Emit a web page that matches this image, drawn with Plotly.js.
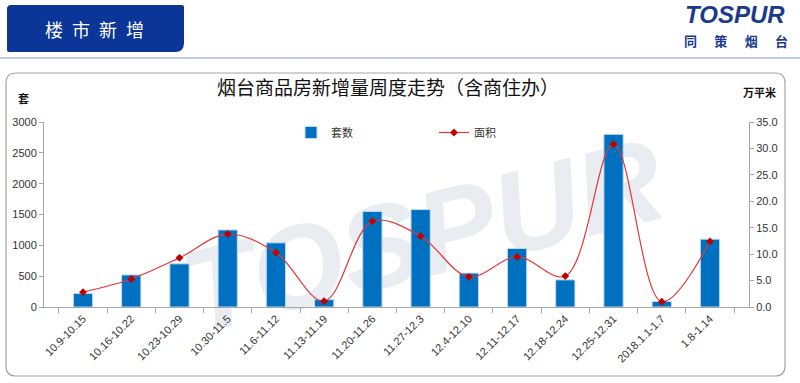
<!DOCTYPE html>
<html>
<head>
<meta charset="utf-8">
<script src="https://cdn.plot.ly/plotly-3.0.1.min.js"></script>
<style>
html,body{margin:0;padding:0;background:#fff;}
#chart{width:800px;height:383px;}
</style>
</head>
<body>
<div id="chart"></div>
<script>
// ---- data ----
const weeks = ["10.9-10.15","10.16-10.22","10.23-10.29","10.30-11.5","11.6-11.12","11.13-11.19","11.20-11.26","11.27-12.3","12.4-12.10","12.11-12.17","12.18-12.24","12.25-12.31","2018.1.1-1.7","1.8-1.14"];
const units = [220, 520, 700, 1250, 1040, 120, 1550, 1580, 550, 950, 440, 2800, 90, 1100];
const area = [2.8, 5.3, 9.3, 13.8, 10.3, 1.1, 16.2, 13.4, 5.7, 9.5, 5.85, 30.8, 1.0, 12.4];
const unitsName = "套数";
const areaName = "面积";
const chartTitle = "烟台商品房新增量周度走势（含商住办）";
const leftUnit = "套";
const rightUnit = "万平米";
const headerText = "楼\u2002市\u2002新\u2002增";
const logoText = "TOSPUR";
const logoSub = "同\u3000\u2004策\u3000\u2004烟\u3000\u2004台";

// ---- pixel -> paper helpers (plot area: x 44..749, y 122..307) ----
const PL = 44, PR = 749, PT = 122, PB = 307;
const fx = x => (x - PL) / (PR - PL);
const fy = y => (PB - y) / (PB - PT);

function roundRect(x0, y0, x1, y1, rtl, rtr, rbr, rbl) {
  const P = (x, y) => fx(x) + "," + fy(y);
  return "M" + P(x0 + rtl, y0) +
    " L" + P(x1 - rtr, y0) + " Q" + P(x1, y0) + " " + P(x1, y0 + rtr) +
    " L" + P(x1, y1 - rbr) + " Q" + P(x1, y1) + " " + P(x1 - rbr, y1) +
    " L" + P(x0 + rbl, y1) + " Q" + P(x0, y1) + " " + P(x0, y1 - rbl) +
    " L" + P(x0, y0 + rtl) + " Q" + P(x0, y0) + " " + P(x0 + rtl, y0) + " Z";
}

const barTrace = {
  type: "bar", name: unitsName, x: weeks, y: units, yaxis: "y",
  marker: {color: "#0070C0", line: {color: "#c5dbef", width: 1}},
  hoverinfo: "x+y"
};
const lineTrace = {
  type: "scatter", mode: "lines+markers", name: areaName, x: weeks, y: area, yaxis: "y2",
  line: {color: "#e0393a", width: 1.2, shape: "spline", smoothing: 1},
  marker: {symbol: "diamond", size: 6, color: "#c00000"}
};

const axisFont = {family: "Liberation Sans, Arial, sans-serif", size: 11, color: "#333"};
const cjk = "Noto Sans CJK SC, sans-serif";

const layout = {
  width: 800, height: 383,
  margin: {l: PL, r: 800 - PR, t: PT, b: 383 - PB, pad: 0},
  paper_bgcolor: "#fff", plot_bgcolor: "rgba(0,0,0,0)",
  showlegend: true,
  bargap: 0.6,
  legend: {
    orientation: "h", x: fx(291), y: fy(118), xanchor: "left", yanchor: "top",
    font: {family: cjk, size: 11, color: "#333"},
    bgcolor: "rgba(0,0,0,0)", entrywidth: 98, entrywidthmode: "pixels",
    itemwidth: 30
  },
  xaxis: {
    type: "category", tickangle: -45, tickfont: axisFont,
    showline: true, linecolor: "#a6a6a6", linewidth: 1,
    ticks: "outside", ticklen: 5, tickcolor: "#a6a6a6", tickson: "boundaries",
    showgrid: false, zeroline: false, fixedrange: true
  },
  yaxis: {
    range: [0, 3000], dtick: 500, tickfont: axisFont,
    showline: true, linecolor: "#a6a6a6", linewidth: 1,
    ticks: "outside", ticklen: 4, tickcolor: "#a6a6a6",
    showgrid: false, zeroline: false, fixedrange: true
  },
  yaxis2: {
    overlaying: "y", side: "right", range: [0, 35], dtick: 5, tickformat: ".1f",
    tickfont: axisFont,
    showline: true, linecolor: "#a6a6a6", linewidth: 1,
    ticks: "outside", ticklen: 4, tickcolor: "#a6a6a6",
    showgrid: false, zeroline: false, fixedrange: true
  },
  shapes: [
    // watermark (below traces)
    {type: "rect", xref: "paper", yref: "paper", x0: fx(60), x1: fx(780), y0: fy(350), y1: fy(100),
     layer: "below", line: {width: 0}, fillcolor: "rgba(0,0,0,0)",
     label: {text: logoText, textangle: -14, textposition: "middle center",
             font: {family: "Liberation Sans, Arial", size: 118, color: "#e9edf1", weight: "bold", style: "italic"}}},
    // separator line under header
    {type: "line", xref: "paper", yref: "paper", x0: fx(0), x1: fx(800), y0: fy(58), y1: fy(58),
     line: {color: "#a9bcd9", width: 1.5}, layer: "above"},
    // header box
    {type: "path", xref: "paper", yref: "paper", path: roundRect(7, 5, 184, 52, 4, 2, 9, 2),
     fillcolor: "#0b3597", line: {width: 0}, layer: "above"},
    // outer frame
    {type: "path", xref: "paper", yref: "paper", path: roundRect(6, 73, 785, 376, 10, 10, 10, 10),
     fillcolor: "rgba(0,0,0,0)", line: {color: "#a6a6a6", width: 1.2}, layer: "below"}
  ],
  annotations: [
    {text: headerText, xref: "paper", yref: "paper", x: fx(94), y: fy(29), showarrow: false,
     xanchor: "center", yanchor: "middle", font: {family: cjk, size: 18, color: "#fff"}},
    {text: logoText, xref: "paper", yref: "paper", x: fx(735), y: fy(15), showarrow: false,
     xanchor: "center", yanchor: "middle",
     font: {family: "Liberation Sans, Arial", size: 24, color: "#1b3a8c", weight: "bold", style: "italic"}},
    {text: logoSub, xref: "paper", yref: "paper", x: fx(736), y: fy(40), showarrow: false,
     xanchor: "center", yanchor: "middle", font: {family: cjk, size: 13, color: "#1b3a8c", weight: "bold"}},
    {text: chartTitle, xref: "paper", yref: "paper", x: fx(388), y: fy(86), showarrow: false,
     xanchor: "center", yanchor: "middle", font: {family: cjk, size: 19, color: "#111"}},
    {text: leftUnit, xref: "paper", yref: "paper", x: fx(23), y: fy(98), showarrow: false,
     xanchor: "center", yanchor: "middle", font: {family: cjk, size: 11, color: "#111", weight: "bold"}},
    {text: rightUnit, xref: "paper", yref: "paper", x: fx(759), y: fy(92), showarrow: false,
     xanchor: "center", yanchor: "middle", font: {family: cjk, size: 11, color: "#111", weight: "bold"}}
  ]
};

Plotly.newPlot("chart", [barTrace, lineTrace], layout, {displayModeBar: false, staticPlot: true});
</script>
</body>
</html>
